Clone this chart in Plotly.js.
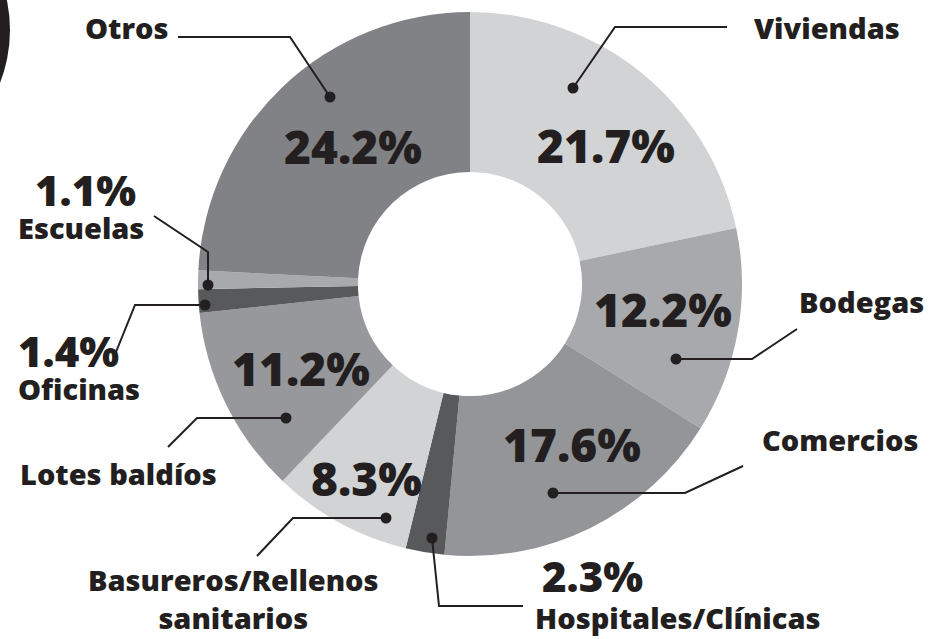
<!DOCTYPE html>
<html>
<head>
<meta charset="utf-8">
<script src="https://cdn.plot.ly/plotly-3.0.1.min.js"></script>
<style>html,body{margin:0;padding:0;background:#fff;}#chart{width:932px;height:639px;}</style>
</head>
<body>
<div id="chart"></div>
<script>
// ---- data ----
var categories = ["Viviendas", "Bodegas", "Comercios", "Hospitales/Clínicas", "Basureros/Rellenos sanitarios", "Lotes baldíos", "Oficinas", "Escuelas", "Otros"];
var shares = [21.7, 12.2, 17.6, 2.3, 8.3, 11.2, 1.4, 1.1, 24.2];
var sliceColors = ["#d1d3d4", "#a7a9ac", "#939598", "#58595b", "#d1d3d4", "#96989b", "#58595b", "#a7a9ac", "#808285"];
var nameLines = ["Viviendas", "Bodegas", "Comercios", "Hospitales/Clínicas", "Basureros/Rellenos<br>sanitarios", "Lotes baldíos", "Oficinas", "Escuelas", "Otros"];

// ---- layout config (pixel positions of labels & leaders) ----
var W = 932, H = 639;
var CX = 470, CY = 284, R = 272;
function px(x){ return x / W; }
function py(y){ return 1 - y / H; }
var INK = "#231f20";
var FONT = "Open Sans";
var NAME_SIZE = 29, BIG_SIZE = 46, SMALL_PCT = 42;

// inside-percentage centres
var pctInside = { "Viviendas":[606,145], "Bodegas":[663,309], "Comercios":[572,444], "Basureros/Rellenos sanitarios":[366,478], "Lotes baldíos":[301,368], "Otros":[353,146] };
// outside percentage (small slices): [left x, centre y]
var pctOutside = { "Hospitales/Clínicas":[540,575], "Oficinas":[16,350], "Escuelas":[33,189] };
// name label positions [x, y, anchor]
var nameBox = {
  "Viviendas":[752,28,"left"], "Bodegas":[797,301,"left"], "Comercios":[760,440,"left"],
  "Hospitales/Clínicas":[533,617,"left"], "Basureros/Rellenos sanitarios":[233,598,"center"],
  "Lotes baldíos":[18,473,"left"], "Oficinas":[16,388,"left"], "Escuelas":[16,227,"left"], "Otros":[83,28,"left"]
};
// leader polylines: dot first
var leaders = {
  "Viviendas":[[573,88],[615,27],[727,27]],
  "Bodegas":[[676,359],[752,359],[797,329]],
  "Comercios":[[553,493],[685,493],[743,466]],
  "Hospitales/Clínicas":[[432,538],[439,606],[523,606]],
  "Basureros/Rellenos sanitarios":[[386,518],[293,518],[257,556]],
  "Lotes baldíos":[[286,418],[197,418],[168,447]],
  "Oficinas":[[205,305],[135,305],[116,352]],
  "Escuelas":[[208,285],[208,252],[154,216]],
  "Otros":[[330,97],[290,37],[178,37]]
};

var annotations = [];
var shapes = [];

// decorative black circle at top-left
shapes.push({type:"circle", xref:"paper", yref:"paper", x0:px(-280), x1:px(10), y0:py(175), y1:py(-115), fillcolor:INK, line:{width:0}, layer:"below"});

categories.forEach(function(cat, i){
  var pct = shares[i].toFixed(1) + "%";
  if (pctInside[cat]) {
    var p = pctInside[cat];
    annotations.push({xref:"paper", yref:"paper", x:px(p[0]), y:py(p[1]), text:pct, showarrow:false, xanchor:"center", yanchor:"middle", font:{family:FONT, size:BIG_SIZE, color:INK, weight:800}});
  }
  if (pctOutside[cat]) {
    var q = pctOutside[cat];
    annotations.push({xref:"paper", yref:"paper", x:px(q[0]), y:py(q[1]), text:pct, showarrow:false, xanchor:"left", yanchor:"middle", font:{family:FONT, size:SMALL_PCT, color:INK, weight:800}});
  }
  var nb = nameBox[cat];
  annotations.push({xref:"paper", yref:"paper", x:px(nb[0]), y:py(nb[1]), text:nameLines[i], showarrow:false, xanchor:nb[2], yanchor:"middle", align:"center", font:{family:FONT, size:NAME_SIZE, color:INK, weight:800}});
  var L = leaders[cat];
  var path = "";
  L.forEach(function(pt, k){ path += (k===0 ? "M" : " L") + px(pt[0]) + "," + py(pt[1]); });
  shapes.push({type:"path", xref:"paper", yref:"paper", path:path, line:{color:INK, width:2}});
  var d = L[0], rr = 5.5;
  shapes.push({type:"circle", xref:"paper", yref:"paper", x0:px(d[0]-rr), x1:px(d[0]+rr), y0:py(d[1]+rr), y1:py(d[1]-rr), fillcolor:INK, line:{width:0}});
});

var trace = {
  type:"pie",
  labels:categories,
  values:shares,
  marker:{colors:sliceColors, line:{width:0}},
  sort:false,
  direction:"clockwise",
  rotation:0,
  hole:0.412,
  textinfo:"none",
  hoverinfo:"label+percent",
  showlegend:false,
  domain:{x:[px(CX-R), px(CX+R)], y:[py(CY+R), py(CY-R)]}
};

var layout = {
  width:W, height:H,
  margin:{l:0, r:0, t:0, b:0},
  paper_bgcolor:"#ffffff",
  showlegend:false,
  annotations:annotations,
  shapes:shapes
};

Plotly.newPlot("chart", [trace], layout, {displayModeBar:false, staticPlot:true});
</script>
</body>
</html>
